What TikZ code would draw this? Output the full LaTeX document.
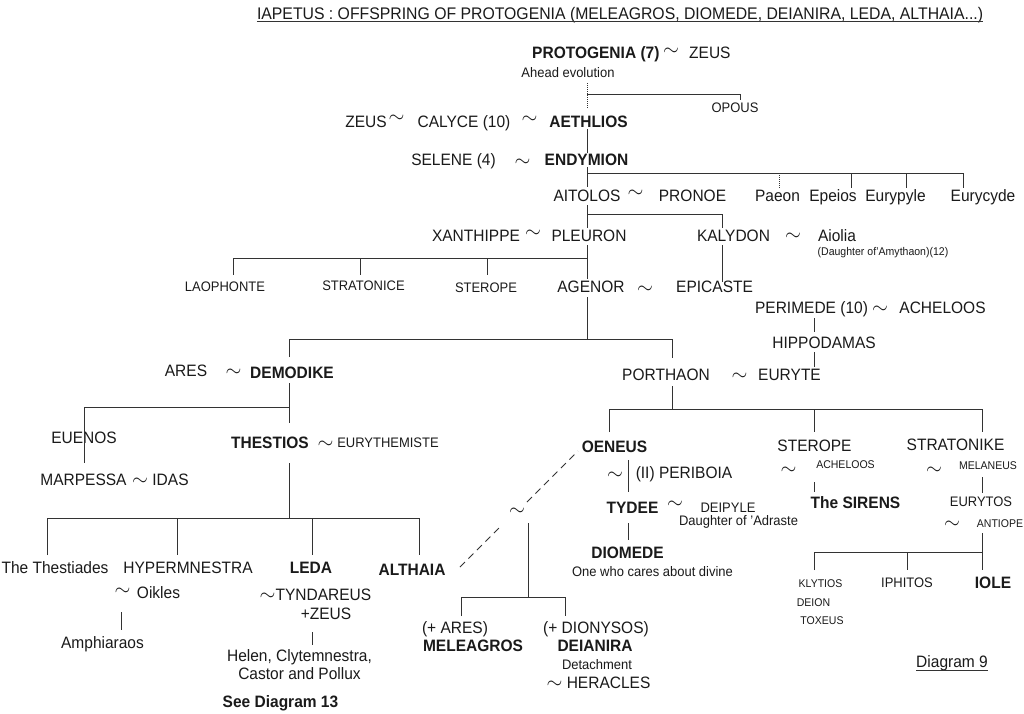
\documentclass[tikz,border=0pt]{standalone}
\usepackage{fontspec}
\setmainfont[FakeStretch=0.94]{Liberation Sans}
\definecolor{ink}{HTML}{1A1A1A}
\definecolor{wire}{HTML}{333333}
\newcommand{\tsim}{\scalebox{1.18}{$\sim$}}
\begin{document}
\begin{tikzpicture}[x=1pt,y=-1pt,
  lbl/.style={inner sep=0pt,text depth=0pt,text height=11.8pt,text=ink,font=\fontsize{16.5}{18}\selectfont},
  bld/.style={lbl,font=\fontsize{16.5}{18}\selectfont\bfseries},
  sml/.style={lbl,text height=9.9pt,font=\fontsize{13.8}{15}\selectfont},
  tny/.style={lbl,text height=8pt,font=\fontsize{11.2}{13}\selectfont},
  ttl/.style={lbl,text height=12pt,font=\fontsize{16.8}{18}\selectfont},
  tl/.style={inner sep=0pt,text=ink,font=\fontsize{16}{18}\selectfont},
  ln/.style={draw=wire,line width=0.9pt},
  dotln/.style={draw=wire,line width=0.7pt,dash pattern=on 1pt off 1pt},
  dsh/.style={draw=wire,line width=0.9pt,dash pattern=on 7pt off 5pt}]
\useasboundingbox (0,0) rectangle (1024,713);
\fill[white] (0,0) rectangle (1024,713);

% ---------------- texts ----------------
\node[ttl] (title) at (620,13.5) {IAPETUS : OFFSPRING OF PROTOGENIA (MELEAGROS, DIOMEDE, DEIANIRA, LEDA, ALTHAIA...)};
\draw[ln,line width=0.8pt] ([yshift=-2pt]title.south west) -- ([yshift=-2pt]title.south east);

\node[bld,anchor=west] (protogenia) at (532,53) {PROTOGENIA (7)};
\node[tl] (s1) at (671,52) {\tsim};
\node[lbl,anchor=west] (zeusa) at (689,53) {ZEUS};
\node[sml] (ahead) at (568,72.5) {Ahead evolution};
\node[sml] (opous) at (735,108) {OPOUS};

\node[lbl] (zeusb) at (366,121.5) {ZEUS};
\node[tl] (s2) at (396.5,119) {\tsim};
\node[lbl] (calyce) at (464,121.5) {CALYCE (10)};
\node[tl] (s3) at (529.5,119.5) {\tsim};
\node[bld] (aethlios) at (588.5,121.5) {AETHLIOS};

\node[lbl] (selene) at (453.5,160) {SELENE (4)};
\node[tl] (s4) at (522.5,163) {\tsim};
\node[bld] (endymion) at (586.5,160) {ENDYMION};

\node[lbl] (aitolos) at (587,196) {AITOLOS};
\node[tl] (s5) at (635.5,194) {\tsim};
\node[lbl] (pronoe) at (692.5,196) {PRONOE};
\node[lbl] (paeon) at (777.5,196) {Paeon};
\node[lbl] (epeios) at (833,196) {Epeios};
\node[lbl] (eurypyle) at (895.5,196) {Eurypyle};
\node[lbl] (eurycyde) at (983,196) {Eurycyde};

\node[lbl] (xanthippe) at (476,236) {XANTHIPPE};
\node[tl] (s6) at (533,234) {\tsim};
\node[lbl] (pleuron) at (589,236) {PLEURON};
\node[lbl] (kalydon) at (733.5,236) {KALYDON};
\node[tl] (s7) at (793,237) {\tsim};
\node[lbl] (aiolia) at (837,236) {Aiolia};
\node[tny] (amythaon) at (883,251) {(Daughter of'Amythaon)(12)};

\node[sml] (laophonte) at (225,287) {LAOPHONTE};
\node[sml] (stratonice) at (363.5,286) {STRATONICE};
\node[sml] (steropea) at (486,288) {STEROPE};
\node[lbl] (agenor) at (591,287) {AGENOR};
\node[tl] (s8) at (645,290) {\tsim};
\node[lbl,anchor=west] (epicaste) at (676,287) {EPICASTE};

\node[lbl] (perimede) at (811.5,308) {PERIMEDE (10)};
\node[tl] (s9) at (880,310) {\tsim};
\node[lbl] (acheloosa) at (942.5,308) {ACHELOOS};
\node[lbl] (hippodamas) at (824,343) {HIPPODAMAS};
\node[lbl] (porthaon) at (666,375) {PORTHAON};
\node[tl] (s10) at (739.5,377) {\tsim};
\node[lbl] (euryte) at (789.5,375) {EURYTE};

\node[lbl] (ares) at (186,371) {ARES};
\node[tl] (s11) at (233.5,373) {\tsim};
\node[bld] (demodike) at (292,373) {DEMODIKE};
\node[lbl] (euenos) at (84,438) {EUENOS};
\node[lbl] (marpessa) at (83.5,480) {MARPESSA};
\node[tl] (s12) at (140,482) {\tsim};
\node[lbl] (idas) at (170.5,480) {IDAS};
\node[bld] (thestios) at (270,443) {THESTIOS};
\node[tl] (s13) at (325.5,445) {\tsim};
\node[sml] (eurythemiste) at (388,443) {EURYTHEMISTE};

\node[lbl] (thestiades) at (55,568) {The Thestiades};
\node[lbl] (hypermnestra) at (188,568) {HYPERMNESTRA};
\node[bld] (leda) at (311,568) {LEDA};
\node[bld] (althaia) at (412,570) {ALTHAIA};
\node[tl] (s14) at (122.5,592) {\tsim};
\node[lbl] (oikles) at (158.5,593) {Oikles};
\node[lbl] (amphiaraos) at (102.5,643) {Amphiaraos};
\node[lbl] (tyndareus) at (315.5,595) {\tsim TYNDAREUS};
\node[lbl] (zeusc) at (326,614) {+ZEUS};
\node[lbl] (helen) at (299.5,656) {Helen, Clytemnestra,};
\node[lbl] (castor) at (299.5,674) {Castor and Pollux};
\node[bld] (seedia) at (280.5,702) {See Diagram 13};

\node[tl] (s15) at (517,512) {\tsim};
\node[lbl] (pares) at (455,628) {(+ ARES)};
\node[bld] (meleagros) at (473,646) {MELEAGROS};
\node[lbl] (pdion) at (596,628) {(+ DIONYSOS)};
\node[bld] (deianira) at (595,646) {DEIANIRA};
\node[sml] (detach) at (597,665) {Detachment};
\node[lbl] (heracles) at (598.5,683) {\tsim\ HERACLES};

\node[bld] (oeneus) at (614.5,447) {OENEUS};
\node[tl] (s16) at (615,476) {\tsim};
\node[lbl] (periboia) at (684,473) {(II) PERIBOIA};
\node[bld] (tydee) at (632.5,508) {TYDEE};
\node[tl] (s17) at (675,505) {\tsim};
\node[sml] (deipyle) at (728,508) {DEIPYLE};
\node[sml] (adraste) at (738.5,521) {Daughter of 'Adraste};
\node[bld] (diomede) at (627.5,553) {DIOMEDE};
\node[sml] (cares) at (652.5,572) {One who cares about divine};
\node[lbl] (steropeb) at (814.5,446) {STEROPE};
\node[tl] (s18) at (788.5,471) {\tsim};
\node[tny] (acheloosb) at (845.5,464) {ACHELOOS};
\node[bld] (sirens) at (855.5,503) {The SIRENS};
\node[lbl] (stratonike) at (955.5,445) {STRATONIKE};
\node[tl] (s19) at (934,471) {\tsim};
\node[tny] (melaneus) at (988,465) {MELANEUS};
\node[sml] (eurytos) at (981,502) {EURYTOS};
\node[tl] (s20) at (952,525) {\tsim};
\node[tny] (antiope) at (1000,523) {ANTIOPE};
\node[tny] (klytios) at (820.5,583) {KLYTIOS};
\node[tny] (deion) at (813.5,602) {DEION};
\node[tny] (toxeus) at (822,620) {TOXEUS};
\node[sml] (iphitos) at (907,583) {IPHITOS};
\node[bld] (iole) at (993,583) {IOLE};
\node[lbl] (diag) at (952,662) {Diagram 9};
\draw[ln,line width=0.8pt] ([yshift=-2pt]diag.south west) -- ([yshift=-2pt]diag.south east);

% ---------------- junction points ----------------
\coordinate (p1) at (587,83);  \coordinate (p2) at (587,109);
\coordinate (o1) at (587,94);  \coordinate (o2) at (740,94);  \coordinate (o3) at (740,100);
\coordinate (q1) at (587,129); \coordinate (q2) at (587,153);
\coordinate (e0) at (587,167); \coordinate (e1) at (587,173); \coordinate (e2) at (963,173); \coordinate (e3) at (587,187);
\coordinate (k1) at (779,173); \coordinate (k1b) at (779,188);
\coordinate (k2) at (851,173); \coordinate (k2b) at (851,188);
\coordinate (k3) at (906,173); \coordinate (k3b) at (906,188);
\coordinate (k4b) at (963,188);
\coordinate (f0) at (587,205); \coordinate (f1) at (587,214); \coordinate (f2) at (722,214); \coordinate (f3) at (722,228); \coordinate (f4) at (587,228);
\coordinate (g0) at (587,245); \coordinate (g1) at (587,258); \coordinate (g2) at (233,258); \coordinate (g3) at (233,275);
\coordinate (g4) at (360,258); \coordinate (g5) at (360,275); \coordinate (g6) at (487,258); \coordinate (g7) at (487,275); \coordinate (g8) at (587,279);
\coordinate (h0) at (722,245); \coordinate (h1) at (722,282);
\coordinate (m0) at (814,318); \coordinate (m1) at (814,332); \coordinate (m2) at (814,352); \coordinate (m3) at (814,367);
\coordinate (n0) at (587,297); \coordinate (n1) at (587,339); \coordinate (n2) at (289,339); \coordinate (n3) at (289,357);
\coordinate (n4) at (672,339); \coordinate (n5) at (672,358);
\coordinate (r0) at (289,383); \coordinate (r1) at (289,407); \coordinate (r2) at (84,407); \coordinate (r3) at (84,463); \coordinate (r4) at (289,423);
\coordinate (u0) at (289,463); \coordinate (u1) at (289,518); \coordinate (u2) at (47,518); \coordinate (u3) at (47,555);
\coordinate (u4) at (177,518); \coordinate (u5) at (177,555); \coordinate (u6) at (312,518); \coordinate (u7) at (312,555);
\coordinate (u8) at (419,518); \coordinate (u9) at (419,555);
\coordinate (v0) at (121,612); \coordinate (v1) at (121,630);
\coordinate (w0) at (312,632); \coordinate (w1) at (312,645);
\coordinate (x0) at (460,567); \coordinate (x1) at (499,528); \coordinate (x2) at (527,502); \coordinate (x3) at (578,451);
\coordinate (y0) at (528,523); \coordinate (y1) at (528,597); \coordinate (y2) at (461,597); \coordinate (y3) at (461,616);
\coordinate (y4) at (565,597); \coordinate (y5) at (565,616);
\coordinate (z0) at (672,386); \coordinate (z1) at (672,409); \coordinate (z2) at (609,409); \coordinate (z3) at (609,432);
\coordinate (z4) at (814,409); \coordinate (z5) at (814,432); \coordinate (z6) at (982,409); \coordinate (z7) at (982,432);
\coordinate (c0) at (628,460); \coordinate (c1) at (628,492); \coordinate (c2) at (628,523); \coordinate (c3) at (628,540);
\coordinate (c4) at (814,482); \coordinate (c5) at (814,492);
\coordinate (c6) at (982,477); \coordinate (c7) at (982,493); \coordinate (c8) at (982,533); \coordinate (c9) at (982,552); \coordinate (c10) at (982,570);
\coordinate (c11) at (814,552); \coordinate (c12) at (814,570); \coordinate (c13) at (907,552); \coordinate (c14) at (907,570);

% ---------------- connectors ----------------
\draw[dotln] (p1) -- (p2);
\draw[ln] (o1) -- (o2) -- (o3);
\draw[ln] (q1) -- (q2);
\draw[ln] (e0) -- (e3);
\draw[ln] (e1) -- (e2) -- (k4b);
\draw[dotln] (k1) -- (k1b);
\draw[ln] (k2) -- (k2b);
\draw[ln] (k3) -- (k3b);
\draw[ln] (f0) -- (f4);
\draw[ln] (f1) -- (f2) -- (f3);
\draw[ln] (g0) -- (g8);
\draw[ln] (g1) -- (g2) -- (g3);
\draw[ln] (g4) -- (g5);
\draw[ln] (g6) -- (g7);
\draw[ln] (h0) -- (h1);
\draw[ln] (m0) -- (m1);
\draw[ln] (m2) -- (m3);
\draw[ln] (n0) -- (n1);
\draw[ln] (n3) -- (n2) -- (n4) -- (n5);
\draw[ln] (r0) -- (r4);
\draw[ln] (r1) -- (r2) -- (r3);
\draw[ln] (u0) -- (u1);
\draw[ln] (u3) -- (u2) -- (u8) -- (u9);
\draw[ln] (u4) -- (u5);
\draw[ln] (u6) -- (u7);
\draw[ln] (v0) -- (v1);
\draw[ln] (w0) -- (w1);
\draw[dsh] (x0) -- (x1);
\draw[dsh] (x2) -- (x3);
\draw[ln] (y0) -- (y1);
\draw[ln] (y3) -- (y2) -- (y4) -- (y5);
\draw[ln] (z0) -- (z1);
\draw[ln] (z3) -- (z2) -- (z6) -- (z7);
\draw[ln] (z4) -- (z5);
\draw[ln] (c0) -- (c1);
\draw[ln] (c2) -- (c3);
\draw[ln] (c4) -- (c5);
\draw[ln] (c6) -- (c7);
\draw[ln] (c8) -- (c10);
\draw[ln] (c12) -- (c11) -- (c9);
\draw[ln] (c13) -- (c14);
\end{tikzpicture}
\end{document}
